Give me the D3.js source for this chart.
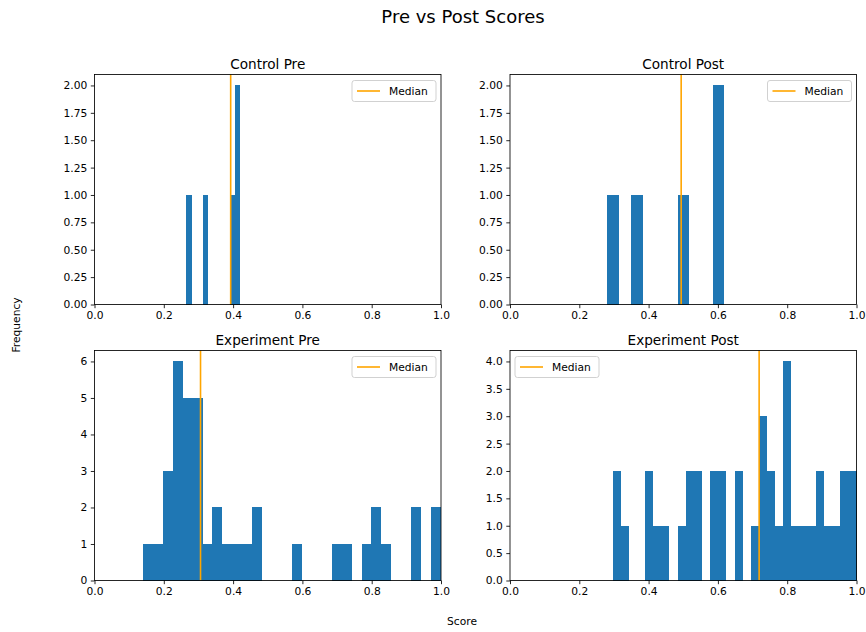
<!DOCTYPE html>
<html>
<head>
<meta charset="utf-8">
<script src="https://cdn.jsdelivr.net/npm/d3@7"></script>
<style>
  html, body { margin: 0; padding: 0; background: #fff; }
  svg { display: block; font-family: "DejaVu Sans", sans-serif; }
</style>
</head>
<body>
<svg id="chart" width="866" height="632"></svg>
<script>
// Score histograms: each panel has 30 or 10 equal bins between its lowest and highest score.
const panelTitles = ["Control Pre", "Control Post", "Experiment Pre", "Experiment Post"];
const binStart = [0.265, 0.281, 0.1397, 0.296];
const binEnd = [0.421, 0.619, 1.0, 1.0];

const controlPreCounts = [1, 0, 0, 1, 0, 0, 0, 0, 1, 2];
const controlPostCounts = [1, 0, 1, 0, 0, 0, 1, 0, 0, 2];
const experimentPreCounts = [1, 1, 3, 6, 5, 5, 1, 2, 1, 1, 1, 2, 0, 0, 0, 1, 0, 0, 0, 1, 1, 0, 1, 2, 1, 0, 0, 2, 0, 2];
const experimentPostCounts = [2, 1, 0, 0, 2, 1, 1, 0, 1, 2, 2, 0, 2, 2, 0, 2, 0, 1, 3, 2, 1, 4, 1, 1, 1, 2, 1, 1, 2, 2];
const panelCounts = [controlPreCounts, controlPostCounts, experimentPreCounts, experimentPostCounts];

const medians = [0.393, 0.494, 0.306, 0.719];

const xTicks = [0, 0.2, 0.4, 0.6, 0.8, 1.0];
const controlYTicks = [0, 0.25, 0.5, 0.75, 1.0, 1.25, 1.5, 1.75, 2.0];
const experimentPreYTicks = [0, 1, 2, 3, 4, 5, 6];
const experimentPostYTicks = [0, 0.5, 1.0, 1.5, 2.0, 2.5, 3.0, 3.5, 4.0];
const panelYTicks = [controlYTicks, controlYTicks, experimentPreYTicks, experimentPostYTicks];
const yTickFormats = [".2f", ".2f", "d", ".1f"];
const legendCorner = ["right", "right", "right", "left"];

const BAR = "#1f77b4";
const MEDIAN = "orange";
const FS = 10.7;

// Axes rectangles (left, top, right, bottom) for the 2x2 grid
const rects = [
  [94.5, 74.5, 441, 304.5],
  [510, 74.5, 856.5, 304.5],
  [94.5, 350.5, 441, 580.5],
  [510, 350.5, 856.5, 580.5]
];

const svg = d3.select("#chart");

svg.append("text")
  .attr("x", 463).attr("y", 23)
  .attr("text-anchor", "middle")
  .attr("font-size", 18)
  .text("Pre vs Post Scores");

svg.append("text")
  .attr("x", 462).attr("y", 625)
  .attr("text-anchor", "middle")
  .attr("font-size", FS)
  .text("Score");

svg.append("text")
  .attr("transform", "translate(20,325) rotate(-90)")
  .attr("text-anchor", "middle")
  .attr("font-size", FS)
  .text("Frequency");

panelTitles.forEach((title, p) => {
  const [l, t, r, b] = rects[p];
  const counts = panelCounts[p];
  const nBins = counts.length;
  const w = (binEnd[p] - binStart[p]) / nBins;
  const yMax = d3.max(counts) * 1.05;

  const x = d3.scaleLinear().domain([0, 1]).range([l, r]);
  const y = d3.scaleLinear().domain([0, yMax]).range([b, t]);

  const g = svg.append("g");

  const bins = counts.map((c, i) => ({ x0: binStart[p] + i * w, x1: binStart[p] + (i + 1) * w, c }))
    .filter(d => d.c > 0);

  g.selectAll("rect.bar").data(bins).enter().append("rect")
    .attr("class", "bar")
    .attr("x", d => x(d.x0))
    .attr("width", d => x(d.x1) - x(d.x0))
    .attr("y", d => y(d.c))
    .attr("height", d => y(0) - y(d.c))
    .attr("fill", BAR)
    .attr("shape-rendering", "crispEdges");

  g.append("line")
    .attr("x1", x(medians[p])).attr("x2", x(medians[p]))
    .attr("y1", y(0)).attr("y2", y(yMax))
    .attr("stroke", MEDIAN).attr("stroke-width", 1.6);

  // Axes
  const xAxis = d3.axisBottom(x).tickValues(xTicks).tickFormat(d3.format(".1f")).tickSizeOuter(0).tickSize(3.7).tickPadding(3.5);
  const yAxis = d3.axisLeft(y).tickValues(panelYTicks[p]).tickFormat(d3.format(yTickFormats[p])).tickSizeOuter(0).tickSize(3.7).tickPadding(3.5);

  const gx = g.append("g").attr("transform", `translate(0,${b})`).call(xAxis);
  const gy = g.append("g").attr("transform", `translate(${l},0)`).call(yAxis);
  [gx, gy].forEach(a => {
    a.select(".domain").remove();
    a.selectAll("text").attr("font-size", FS).attr("font-family", "DejaVu Sans").attr("fill", "#000");
    a.selectAll("line").attr("stroke", "#000").attr("stroke-width", 0.85);
  });

  // Frame
  g.append("rect")
    .attr("x", l).attr("y", t).attr("width", r - l).attr("height", b - t)
    .attr("fill", "none").attr("stroke", "#000").attr("stroke-width", 0.85);

  // Title
  g.append("text")
    .attr("x", (l + r) / 2).attr("y", t - 6)
    .attr("text-anchor", "middle")
    .attr("font-size", 13.6)
    .text(title);

  // Legend
  const lw = 84, lh = 21;
  const lx = legendCorner[p] === "right" ? r - 5 - lw : l + 5;
  const ly = t + 6;
  const lg = g.append("g").attr("transform", `translate(${lx},${ly})`);
  lg.append("rect")
    .attr("width", lw).attr("height", lh).attr("rx", 2.5)
    .attr("fill", "#fff").attr("fill-opacity", 0.8)
    .attr("stroke", "#cccccc").attr("stroke-width", 0.9);
  lg.append("line")
    .attr("x1", 5).attr("x2", 28).attr("y1", lh / 2).attr("y2", lh / 2)
    .attr("stroke", MEDIAN).attr("stroke-width", 1.6);
  lg.append("text")
    .attr("x", 37).attr("y", lh / 2 + 3.8)
    .attr("font-size", FS)
    .text("Median");
});
</script>
</body>
</html>
